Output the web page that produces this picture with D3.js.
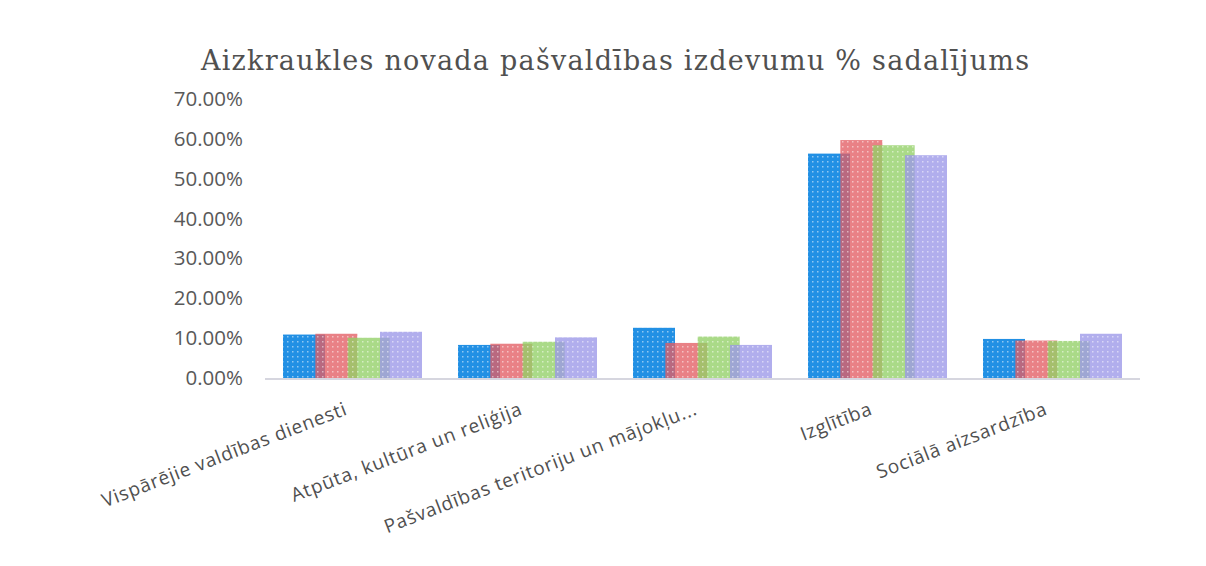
<!DOCTYPE html>
<html>
<head>
<meta charset="utf-8">
<script src="https://cdn.jsdelivr.net/npm/d3@7"></script>
<style>
  body { margin: 0; background: #fff; }
  svg { display: block; }
</style>
</head>
<body>
<svg id="chart"></svg>
<script>
// data
var categories = ['Vispārējie valdības dienesti', 'Atpūta, kultūra un reliģija',
                  'Pašvaldības teritoriju un mājokļu...', 'Izglītība', 'Sociālā aizsardzība'];
var seriesNames = ['s1', 's2', 's3', 's4'];
var s1 = [10.9, 8.3, 12.6, 56.3, 9.8];
var s2 = [11.1, 8.6, 8.8, 59.7, 9.4];
var s3 = [10.1, 9.1, 10.4, 58.4, 9.3];
var s4 = [11.6, 10.2, 8.3, 55.9, 11.1];
var yTicks = [0, 10, 20, 30, 40, 50, 60, 70];
var colors = ['#2290e4', '#e35e64', '#92d066', '#9b97e8'];

var seriesValues = [s1, s2, s3, s4];

var W = 1206, H = 566;
var margin = {top: 99, right: 66, bottom: 188, left: 265},
    width  = W - margin.left - margin.right,
    height = H - margin.top - margin.bottom;

var svg = d3.select('#chart').attr('width', W).attr('height', H);

// dotted fill patterns
var defs = svg.append('defs');
colors.forEach((c, i) => {
    var p = defs.append('pattern')
        .attr('id', 'pat' + i)
        .attr('patternUnits', 'userSpaceOnUse')
        .attr('width', 5).attr('height', 5);
    p.append('rect').attr('width', 5).attr('height', 5).attr('fill', c);
    p.append('rect').attr('x', 2).attr('y', 2).attr('width', 1.5).attr('height', 1.5)
        .attr('fill', '#fff').attr('opacity', 0.5);
});

var g = svg.append('g').attr('transform', 'translate(' + margin.left + ',' + margin.top + ')');

var x0 = d3.scaleBand().domain(categories).range([0, width]);
var x1 = d3.scalePoint().domain(seriesNames).range([-48.5, 48.5]);
var barW = 42;
var y = d3.scaleLinear().domain([0, 70]).range([height, 0]);

// title
svg.append('text')
    .attr('x', 615).attr('y', 70)
    .attr('text-anchor', 'middle')
    .attr('font-family', '"DejaVu Serif", serif')
    .attr('font-size', 27)
    .attr('fill', '#505050')
    .attr('textLength', 828)
    .attr('lengthAdjust', 'spacing')
    .text('Aizkraukles novada pašvaldības izdevumu % sadalījums');

// y axis labels
var yAxis = d3.axisLeft(y).tickValues(yTicks).tickSize(0).tickPadding(22)
    .tickFormat(d => d.toFixed(2) + '%');
var ya = g.append('g').call(yAxis);
ya.select('.domain').remove();
ya.selectAll('text')
    .attr('font-family', '"Open Sans", sans-serif')
    .attr('font-size', 20.5)
    .attr('fill', '#595959');

// bars
seriesNames.forEach((s, si) => {
    g.append('g')
        .selectAll('rect')
        .data(seriesValues[si].map((v, ci) => ({cat: categories[ci], v: v})))
        .enter()
        .append('rect')
        .attr('x', d => x0(d.cat) + x0.bandwidth() / 2 + x1(s) - barW / 2)
        .attr('y', d => y(d.v))
        .attr('width', barW)
        .attr('height', d => y(0) - y(d.v))
        .attr('fill', 'url(#pat' + si + ')')
        .attr('opacity', si == 0 ? 1 : 0.78);
});

// x axis line
g.append('line')
    .attr('x1', 0).attr('x2', width)
    .attr('y1', y(0) + 1).attr('y2', y(0) + 1)
    .attr('stroke', '#c8c8d4').attr('stroke-width', 1.5);

// x labels, rotated
g.append('g').selectAll('text')
    .data(categories)
    .enter()
    .append('text')
    .attr('transform', d => 'translate(' + (x0(d) + x0.bandwidth() / 2 - 4) + ',' + (y(0) + 36) + ') rotate(-21)')
    .attr('text-anchor', 'end')
    .attr('font-family', '"Open Sans", sans-serif')
    .attr('font-size', 19)
    .attr('letter-spacing', 0.8)
    .attr('fill', '#505050')
    .text(d => d);
</script>
</body>
</html>
